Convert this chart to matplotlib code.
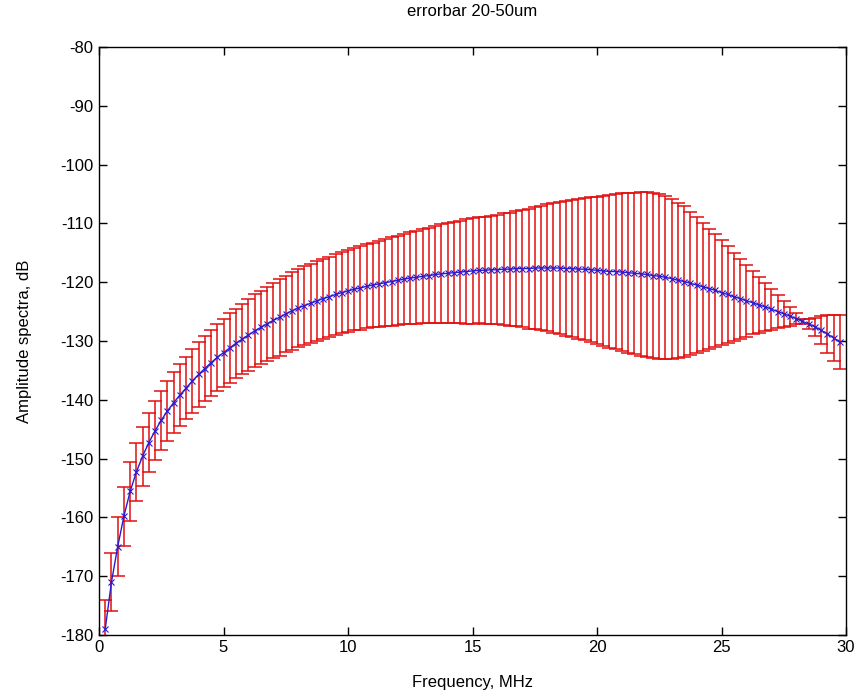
import numpy as np
import matplotlib
matplotlib.use('Agg')
import matplotlib.pyplot as plt

# frequency grid (MHz), one point every 0.25 MHz
freq = np.arange(1, 120) * 0.25

# mean amplitude spectrum (dB)
amp_mean = [
    -179.0, -171.0, -165.0, -159.8, -155.6, -152.3, -149.6, -147.3, -145.3, -143.5,
    -141.9, -140.5, -139.2, -138.0, -136.8, -135.7, -134.7, -133.7, -132.8, -132.0,
    -131.2, -130.4, -129.7, -129.0, -128.3, -127.7, -127.1, -126.5, -126.0, -125.4,
    -124.9, -124.4, -124.0, -123.6, -123.2, -122.8, -122.5, -122.1, -121.8, -121.5,
    -121.2, -121.0, -120.7, -120.5, -120.3, -120.1, -119.9, -119.7, -119.5, -119.3,
    -119.2, -119.0, -118.9, -118.7, -118.6, -118.5, -118.4, -118.3, -118.2, -118.1,
    -118.0, -118.0, -117.9, -117.9, -117.8, -117.8, -117.7, -117.7, -117.7, -117.6,
    -117.6, -117.6, -117.6, -117.6, -117.7, -117.7, -117.8, -117.8, -117.9, -118.0,
    -118.1, -118.2, -118.2, -118.3, -118.4, -118.5, -118.6, -118.7, -118.9, -119.0,
    -119.2, -119.4, -119.7, -119.9, -120.2, -120.5, -120.8, -121.1, -121.4, -121.8,
    -122.1, -122.5, -122.8, -123.2, -123.5, -123.9, -124.2, -124.6, -125.0, -125.4,
    -125.8, -126.2, -126.7, -127.1, -127.6, -128.2, -128.8, -129.5, -130.2,
]

# symmetric error (dB)
amp_err = [
    5.0, 5.0, 5.0, 5.0, 5.0, 5.0, 5.0, 5.0, 5.0, 5.0,
    5.1, 5.2, 5.2, 5.3, 5.4, 5.5, 5.6, 5.6, 5.7, 5.8,
    5.9, 5.9, 6.0, 6.1, 6.2, 6.2, 6.3, 6.4, 6.5, 6.5,
    6.6, 6.6, 6.7, 6.7, 6.8, 6.8, 6.8, 6.9, 6.9, 7.0,
    7.0, 7.1, 7.1, 7.2, 7.3, 7.4, 7.5, 7.6, 7.7, 7.8,
    7.9, 8.0, 8.1, 8.2, 8.4, 8.5, 8.6, 8.7, 8.9, 9.0,
    9.0, 9.1, 9.2, 9.3, 9.5, 9.6, 9.8, 10.0, 10.2, 10.4,
    10.6, 10.8, 11.0, 11.2, 11.5, 11.7, 11.9, 12.1, 12.3, 12.5,
    12.8, 13.0, 13.2, 13.4, 13.6, 13.7, 13.9, 14.0, 14.0, 14.0,
    13.8, 13.6, 13.2, 12.8, 12.2, 11.5, 10.9, 10.2, 9.6, 8.9,
    8.2, 7.5, 6.8, 6.1, 5.4, 4.8, 4.1, 3.5, 2.8, 2.2,
    1.6, 1.0, 0.4, 0.8, 1.5, 2.4, 3.2, 3.9, 4.6,
]

plt.rcParams['font.family'] = ['Liberation Sans', 'DejaVu Sans']
plt.rcParams['font.size'] = 11
plt.rcParams['axes.unicode_minus'] = False

fig = plt.figure(figsize=(8.61, 7.0), dpi=100)
ax = fig.add_axes([0.115, 0.093, 0.8676, 0.84])

ax.errorbar(freq, amp_mean, yerr=amp_err, fmt='none', ecolor='#e01010',
            elinewidth=1.1, capsize=5, capthick=1.1)
ax.plot(freq, amp_mean, color='#2a1ad0', lw=1.0, marker='x', ms=4, mew=0.8)

ax.set_xlim(0, 30)
ax.set_ylim(-180, -80)
ax.set_xticks(range(0, 31, 5))
ax.set_yticks(range(-180, -79, 10))
ax.tick_params(direction='in', top=True, right=True, length=6, width=1,
               labelsize=12, pad=4)
for s in ax.spines.values():
    s.set_linewidth(1.0)

ax.set_title('errorbar 20-50um', fontsize=12, pad=22)
ax.set_xlabel('Frequency, MHz', fontsize=12, labelpad=14)
ax.set_ylabel('Amplitude spectra, dB', fontsize=12, labelpad=20)

fig.savefig('out.png', dpi=100)
